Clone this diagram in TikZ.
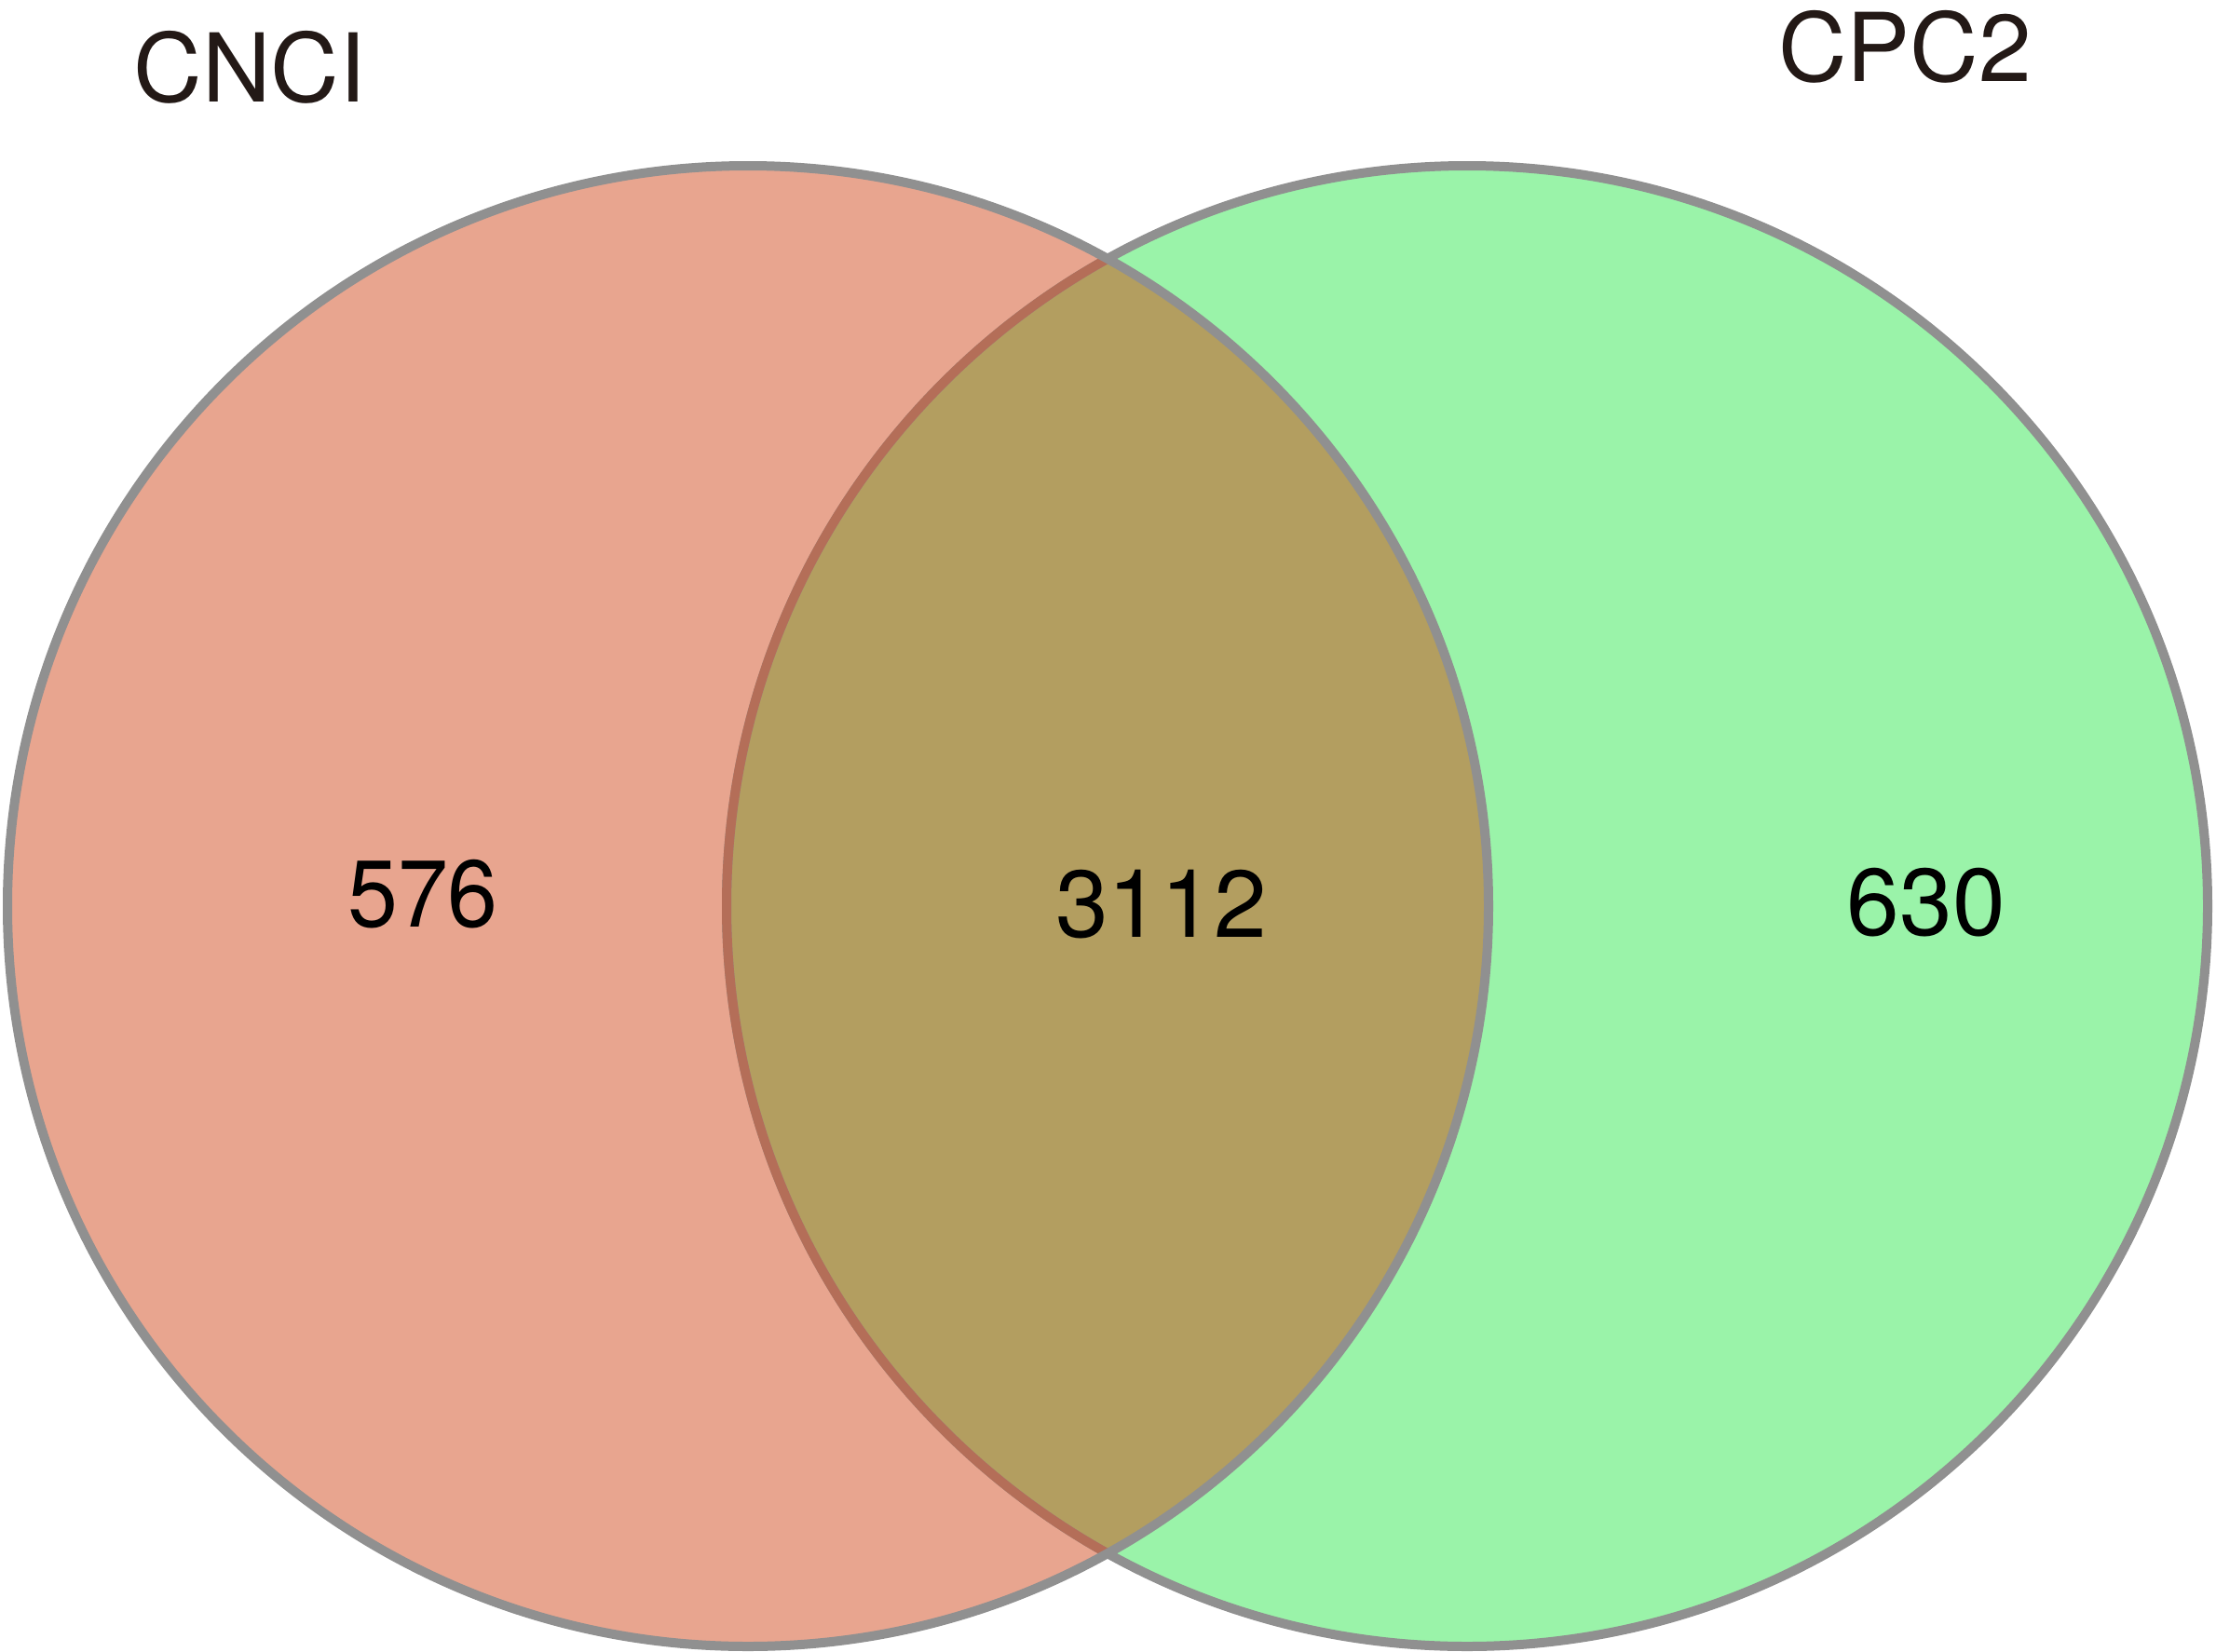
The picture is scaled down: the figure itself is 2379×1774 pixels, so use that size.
\documentclass[tikz,border=0pt]{standalone}
\usepackage{fontspec}
\setmainfont{TeX Gyre Heros}
\definecolor{pinkfill}{RGB}{232,165,143}
\definecolor{greenfill}{RGB}{154,243,169}
\definecolor{olivefill}{RGB}{179,158,96}
\definecolor{edgegray}{RGB}{144,144,144}
\definecolor{edgered}{RGB}{180,110,88}
\definecolor{labeltext}{RGB}{35,25,22}
\begin{document}
\begin{tikzpicture}[x=1pt,y=-1pt,
  setlabel/.style={font=\fontsize{102}{120}\selectfont, text=labeltext, inner sep=0pt},
  countlabel/.style={font=\fontsize{102}{120}\selectfont, text=black, inner sep=0pt},
  rim/.style={line width=10pt}]
\useasboundingbox (0,0) rectangle (2379,1774);
\coordinate (cl) at (803,973);
\coordinate (cr) at (1575,973);
\def\rad{795}
% fills
\fill[pinkfill] (cl) circle[radius=\rad];
\fill[greenfill] (cr) circle[radius=\rad];
\begin{scope}
  \clip (cl) circle[radius=\rad];
  \fill[olivefill] (cr) circle[radius=\rad];
\end{scope}
% outlines
\draw[rim, edgegray] (cr) circle[radius=\rad];
\begin{scope}
  \clip (cl) circle[radius=\rad];
  \draw[rim, edgered] (cr) circle[radius=\rad];
\end{scope}
\draw[rim, edgegray] (cl) circle[radius=\rad];
% labels
\node[setlabel] (cnci) at (268,72) {CNCI};
\node[setlabel] (cpc2) at (2045,50) {CPC2};
\node[countlabel, xscale=0.95] (left) at (454,960) {576};
\node[countlabel] (mid) at (1246.5,971.5) {3112};
\node[countlabel] (right) at (2068,969) {630};
\end{tikzpicture}
\end{document}
